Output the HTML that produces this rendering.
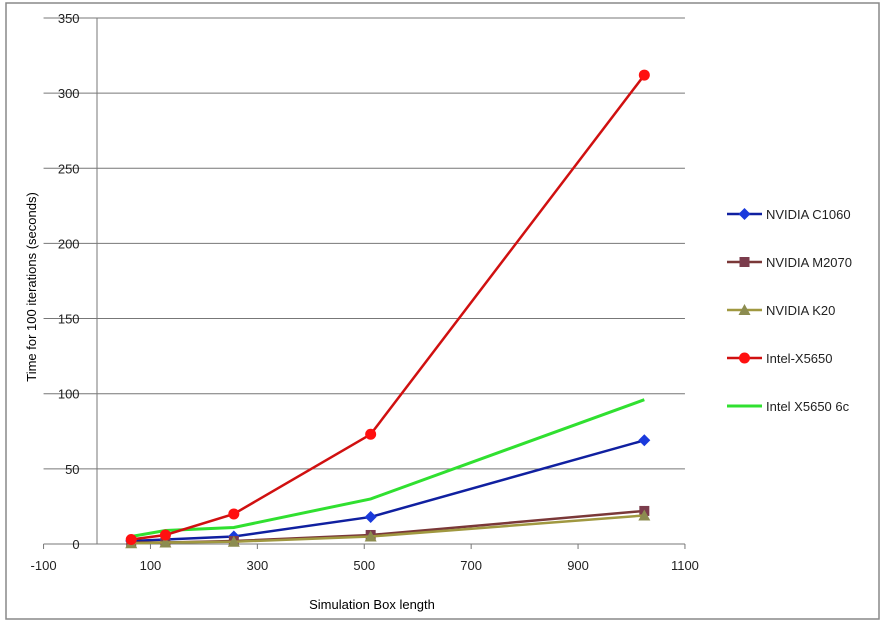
<!DOCTYPE html>
<html><head><meta charset="utf-8"><style>
body{margin:0;background:#fff}
svg{display:block;font-family:"Liberation Sans",sans-serif}
</style></head><body>
<svg id="chart" width="885" height="624" viewBox="0 0 885 624">
<rect x="6" y="3" width="873" height="616" fill="#fff" stroke="#888" stroke-width="1.5"/>
<g id="grid"></g><g id="axes"></g><g id="series"></g><g id="legend"></g>
<text x="30" y="281" font-size="13" transform="rotate(-90 36 281)" text-anchor="middle">Time for 100 iterations (seconds)</text>
<text x="372" y="609" font-size="13" text-anchor="middle">Simulation Box length</text>
</svg>
<script>
const xValues=[64,128,256,512,1024];
const seriesNames=["NVIDIA C1060","NVIDIA M2070","NVIDIA K20","Intel-X5650","Intel X5650 6c"];
const c1060=[2,3,5,18,69];
const m2070=[1,1,2,6,22];
const k20=[0.5,1,1.5,5,19];
const x5650=[3,6,20,73,312];
const x5650six=[5,9,11,30,96];
const xTicks=[-100,100,300,500,700,900,1100];
const yTicks=[0,50,100,150,200,250,300,350];
const NS="http://www.w3.org/2000/svg";
const X=v=>97+(v)*0.5345;
const Y=v=>544-v*1.503;
function mk(t,a,p){const e=document.createElementNS(NS,t);for(const k in a)e.setAttribute(k,a[k]);p.appendChild(e);return e;}
const grid=document.getElementById('grid'),axes=document.getElementById('axes'),ser=document.getElementById('series'),leg=document.getElementById('legend');
yTicks.forEach(v=>{
 const l=mk('line',{x1:X(-100),x2:X(1100),y1:Y(v),y2:Y(v),stroke:'#777','stroke-width':1},grid);
 
 
 const t=mk('text',{x:X(-100)+36,y:Y(v)+5,'font-size':13,'text-anchor':'end',fill:'#222'},axes);
 t.textContent=v;
 
 
});
mk('line',{x1:X(0),x2:X(0),y1:Y(350),y2:Y(0),stroke:'#777'},axes);
xTicks.forEach(v=>{
 mk('line',{x1:X(v),x2:X(v),y1:Y(0),y2:Y(0)+5,stroke:'#777'},axes);
 const t=mk('text',{x:X(v),y:Y(0)+26,'font-size':13,'text-anchor':'middle',fill:'#222'},axes);
 t.textContent=v;
 
 
});
const colors=['#1020a0','#7a3838','#a09840','#d01010','#30e030'];
const markers=['diamond','square','triangle','circle',null];
const data=[c1060,m2070,k20,x5650,x5650six];
const markerColors=['#1a3adc','#7b3c4c','#8c8c50','#ff1010',null];
function marker(type,cx,cy,col,p){
 let e;
 if(type==='diamond')e=mk('polygon',{points:`${cx},${cy-6} ${cx+6},${cy} ${cx},${cy+6} ${cx-6},${cy}`,fill:col},p);
 else if(type==='square')e=mk('rect',{x:cx-5,y:cy-5,width:10,height:10,fill:col},p);
 else if(type==='triangle')e=mk('polygon',{points:`${cx},${cy-6} ${cx+6},${cy+5} ${cx-6},${cy+5}`,fill:col},p);
 else if(type==='circle')e=mk('circle',{cx:cx,cy:cy,r:5.5,fill:col},p);
 return e;
}
const order=[4,0,1,2,3];
order.forEach(i=>{
 const pts=xValues.map((x,j)=>X(x)+','+Y(data[i][j])).join(' ');
 const pl=mk('polyline',{points:pts,fill:'none',stroke:colors[i],'stroke-width':i===4?3:2.5},ser);
 
 
 if(markers[i])xValues.forEach((x,j)=>{
  const m=marker(markers[i],X(x),Y(data[i][j]),markerColors[i],ser);
  
  
 });
});
seriesNames.forEach((n,i)=>{
 const y=214+i*48;
 const g=mk('g',{},leg);
 
 
 mk('line',{x1:727,x2:762,y1:y,y2:y,stroke:colors[i],'stroke-width':i===4?3:2.5},g);
 if(markers[i])marker(markers[i],744.5,y,markerColors[i],g);
 const t=mk('text',{x:766,y:y+5,'font-size':13,fill:'#222'},g);
 t.textContent=n;
});
</script>
</body></html>
